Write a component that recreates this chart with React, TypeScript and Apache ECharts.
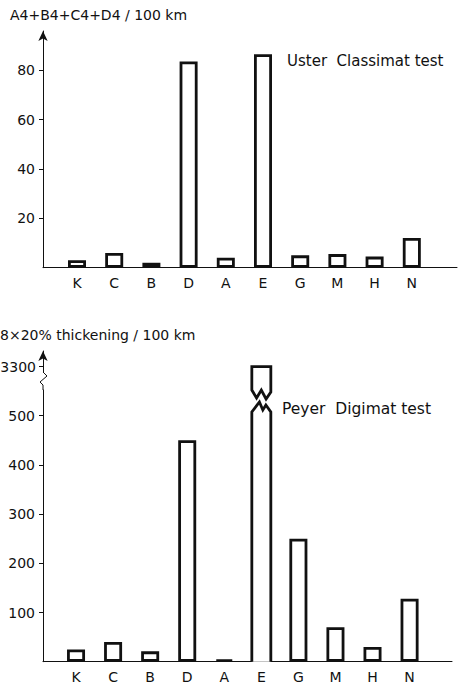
import React, { useEffect, useRef } from "react";
import * as echarts from "echarts";

// Yarn fault counts per cotton sample
const categories = ["K", "C", "B", "D", "A", "E", "G", "M", "H", "N"];
const classimatValues = [3, 6, 2, 83.5, 4, 86.5, 5, 5.5, 4.5, 12];
const digimatValues = [25, 40, 21, 450, 4, 3300, 250, 70, 30, 128];
const classimatTicks = [20, 40, 60, 80];
const digimatTicks = [100, 200, 300, 400, 500];
const digimatBreakTicks = [3300];

const FONT = '"DejaVu Sans", sans-serif';
const INK = "#111";

// Upper panel layout (pixels)
const TOP_BASE = 267.7;
const TOP_END = 31;
const TOP_PX = 2.469; // pixels per count
const topMax = (TOP_BASE - TOP_END) / TOP_PX;

// Lower panel layout, with a broken value axis
const BOT_BASE = 661.7;
const BOT_PX = 0.492;
const LOWER_TOP = 390;
const lowerMax = (BOT_BASE - LOWER_TOP) / BOT_PX;
const UPPER_TOP = 351;
const UPPER_BOTTOM = 372;
const upperMin = 3289.2;
const upperMax = upperMin + (UPPER_BOTTOM - UPPER_TOP) / BOT_PX;

const BAR_W = 18;
const STROKE = 2.8;

const frameGrid = (top: number, bottom: number, width: number) => ({
  left: 43,
  width,
  top,
  height: bottom - top,
  outerBoundsMode: "none",
  containLabel: false,
});
const barGrid = (left: number, width: number, top: number, bottom: number) => ({
  left,
  width,
  top,
  height: bottom - top,
  outerBoundsMode: "none",
  containLabel: false,
});

const frameX = (gridIndex: number, show: boolean) => ({
  type: "value",
  gridIndex,
  min: 0,
  max: 1,
  show,
  axisLine: { show, lineStyle: { color: INK, width: 1 } },
  axisTick: { show: false },
  axisLabel: { show: false },
  splitLine: { show: false },
});
const catX = (gridIndex: number, show: boolean) => ({
  type: "category",
  gridIndex,
  data: categories,
  show,
  axisLine: { show: false },
  axisTick: { show: false },
  axisLabel: { show, color: INK, fontFamily: FONT, fontSize: 14, margin: 8 },
  splitLine: { show: false },
});
const frameY = (
  gridIndex: number,
  min: number,
  max: number,
  ticks: number[],
  arrow: boolean,
  margin = 8
) => ({
  type: "value",
  gridIndex,
  min,
  max,
  axisLine: {
    show: true,
    symbol: arrow ? ["none", "arrow"] : ["none", "none"],
    symbolSize: [7, 10],
    lineStyle: { color: INK, width: 1 },
  },
  axisTick: { show: true, length: 4, customValues: ticks, lineStyle: { color: INK, width: 1 } },
  axisLabel: {
    show: true,
    customValues: ticks,
    formatter: (v: number) => String(v),
    color: INK,
    fontFamily: FONT,
    fontSize: 14,
    margin,
  },
  splitLine: { show: false },
});
const hiddenY = (gridIndex: number, min: number, max: number) => ({
  type: "value",
  gridIndex,
  min,
  max,
  show: false,
  splitLine: { show: false },
});

const barStyle = { color: "#fff", borderColor: INK, borderWidth: STROKE };

const brokenBars = digimatValues
  .map((v, i) => [i, v])
  .filter((d) => d[1] > lowerMax);

export default function App() {
  const ref = useRef<HTMLDivElement>(null);
  useEffect(() => {
    if (!ref.current) return;
    const chart = echarts.init(ref.current, undefined, { renderer: "svg" });
    chart.setOption({
      animation: false,
      backgroundColor: "#fff",
      grid: [
        frameGrid(TOP_END, TOP_BASE, 414),
        barGrid(58.4, 372, TOP_END, TOP_BASE),
        frameGrid(LOWER_TOP, BOT_BASE, 409),
        barGrid(57.5, 370.6, LOWER_TOP, BOT_BASE),
        frameGrid(UPPER_TOP, UPPER_BOTTOM, 409),
        barGrid(57.5, 370.6, UPPER_TOP, UPPER_BOTTOM),
      ],
      xAxis: [
        frameX(0, true),
        catX(1, true),
        frameX(2, true),
        catX(3, true),
        frameX(4, false),
        catX(5, false),
      ],
      yAxis: [
        frameY(0, 0, topMax, classimatTicks, true),
        hiddenY(1, 0, topMax),
        frameY(2, 0, lowerMax, digimatTicks, false),
        hiddenY(3, 0, lowerMax),
        frameY(4, upperMin, upperMax, digimatBreakTicks, true, 7),
        hiddenY(5, upperMin, upperMax),
      ],
      series: [
        {
          type: "bar",
          xAxisIndex: 1,
          yAxisIndex: 1,
          data: classimatValues,
          barWidth: BAR_W,
          itemStyle: barStyle,
        },
        {
          type: "bar",
          xAxisIndex: 3,
          yAxisIndex: 3,
          data: digimatValues.map((v) => (v > lowerMax ? "-" : v)),
          barWidth: BAR_W,
          itemStyle: barStyle,
        },
        {
          // lower stub of a bar running past the axis break
          type: "custom",
          xAxisIndex: 3,
          yAxisIndex: 3,
          data: brokenBars,
          renderItem: (_p: any, api: any) => {
            const i = api.value(0);
            const v = api.value(1);
            const base = api.coord([i, 0]);
            const cap = api.coord([i, Math.min(v, lowerMax)]);
            const w = BAR_W + 1;
            const xl = base[0] - w / 2;
            const xr = base[0] + w / 2;
            const t = cap[1] + 22;
            return {
              type: "polyline",
              shape: {
                points: [
                  [xl, base[1]],
                  [xl, t],
                  [xl + 0.4 * w, t - 10],
                  [xl + 0.58 * w, t - 2],
                  [xl + 0.74 * w, t - 7],
                  [xr, t],
                  [xr, base[1]],
                ],
              },
              style: { fill: "#fff", stroke: INK, lineWidth: STROKE, lineJoin: "miter" },
            };
          },
        },
        {
          // upper end of the same bar above the break
          type: "custom",
          xAxisIndex: 5,
          yAxisIndex: 5,
          data: brokenBars,
          renderItem: (_p: any, api: any) => {
            const i = api.value(0);
            const v = api.value(1);
            const top = api.coord([i, v]);
            const floor = api.coord([i, upperMin]);
            const w = BAR_W + 1;
            const xl = top[0] - w / 2;
            const xr = top[0] + w / 2;
            const b = floor[1] + 18;
            return {
              type: "polygon",
              shape: {
                points: [
                  [xl, b],
                  [xl, top[1]],
                  [xr, top[1]],
                  [xr, b + 2],
                  [xl + 0.75 * w, b + 9],
                  [xl + 0.5 * w, b],
                  [xl + 0.25 * w, b + 8],
                ],
              },
              style: { fill: "#fff", stroke: INK, lineWidth: STROKE, lineJoin: "miter" },
            };
          },
        },
      ],
      graphic: [
        {
          type: "text",
          x: 10,
          y: 15,
          style: { text: "A4+B4+C4+D4 / 100 km", font: `14px ${FONT}`, fill: INK, verticalAlign: "middle" },
        },
        {
          type: "text",
          x: 287,
          y: 61,
          style: { text: "Uster  Classimat test", font: `15px ${FONT}`, fill: INK, verticalAlign: "middle" },
        },
        {
          type: "text",
          x: 0,
          y: 335,
          style: { text: "8×20% thickening / 100 km", font: `14px ${FONT}`, fill: INK, verticalAlign: "middle" },
        },
        {
          type: "text",
          x: 282,
          y: 409,
          style: { text: "Peyer  Digimat test", font: `15.5px ${FONT}`, fill: INK, verticalAlign: "middle" },
        },
        {
          // squiggle marking the break in the value axis
          type: "polyline",
          shape: {
            points: [
              [43, UPPER_BOTTOM],
              [47, UPPER_BOTTOM + 4],
              [40, UPPER_BOTTOM + 10],
              [43, UPPER_BOTTOM + 13],
              [43, LOWER_TOP],
            ],
          },
          style: { stroke: INK, lineWidth: 1, fill: "none" },
        },
      ],
    });
    return () => chart.dispose();
  }, []);
  return (
    <div
      ref={ref}
      style={{ position: "fixed", left: 0, top: 0, width: 459, height: 684, background: "#fff" }}
    />
  );
}
